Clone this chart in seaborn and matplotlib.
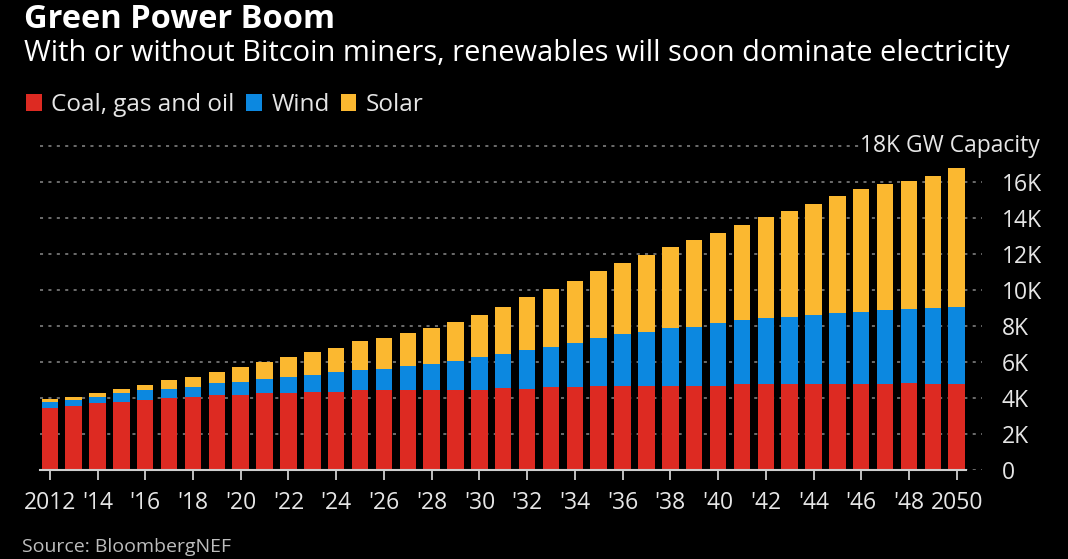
import numpy as np
import pandas as pd
import matplotlib
matplotlib.use("Agg")
import matplotlib.pyplot as plt
import matplotlib.transforms as mtransforms
import seaborn as sns

years = list(range(2012, 2051))
coal = [3.43, 3.57, 3.70, 3.80, 3.89, 3.98, 4.07, 4.15, 4.15, 4.26,
        4.26, 4.35, 4.35, 4.44, 4.44, 4.44, 4.44, 4.44, 4.44, 4.54,
        4.52, 4.59, 4.59, 4.69, 4.69, 4.69, 4.69, 4.69, 4.69, 4.78,
        4.78, 4.78, 4.78, 4.78, 4.78, 4.78, 4.85, 4.78, 4.78]
coal_wind = [3.80, 3.89, 4.04, 4.26, 4.44, 4.52, 4.63, 4.81, 4.91, 5.07,
             5.15, 5.28, 5.44, 5.54, 5.63, 5.80, 5.91, 6.07, 6.26, 6.43,
             6.67, 6.85, 7.07, 7.33, 7.54, 7.69, 7.87, 7.96, 8.15, 8.33,
             8.43, 8.50, 8.61, 8.70, 8.80, 8.89, 8.94, 8.98, 9.07]
total = [3.93, 4.07, 4.26, 4.52, 4.72, 5.00, 5.17, 5.44, 5.70, 6.02,
         6.26, 6.54, 6.80, 7.17, 7.35, 7.63, 7.91, 8.24, 8.61, 9.07,
         9.63, 10.06, 10.52, 11.06, 11.52, 11.96, 12.41, 12.78, 13.15, 13.59,
         14.06, 14.41, 14.78, 15.22, 15.59, 15.87, 16.06, 16.33, 16.78]

series_names = ["Coal, gas and oil", "Wind", "Solar"]
colors = ["#DD2A22", "#0C88E0", "#FBB830"]
y_ticks = [0, 2000, 4000, 6000, 8000, 10000, 12000, 14000, 16000]
y_labels = ["0", "2K", "4K", "6K", "8K", "10K", "12K", "14K", "16K"]
x_tick_years = list(range(2012, 2051, 2))
x_tick_labels = ["2012"] + ["'%02d" % (y % 100) for y in x_tick_years[1:-1]] + ["2050"]

df = pd.DataFrame({"year": [str(y) for y in years],
                   "coal": [v * 1000 for v in coal],
                   "cw": [v * 1000 for v in coal_wind],
                   "total": [v * 1000 for v in total]})

sns.set_theme(style="dark")
plt.rcParams["font.family"] = ["Open Sans", "DejaVu Sans"]
BG = "#000000"
TXT = "#E6E6E6"

fig = plt.figure(figsize=(10.68, 5.59), dpi=100, facecolor=BG)
ax = fig.add_axes([40 / 1068, (559 - 470) / 559, 942 / 1068, 324 / 559])
ax.set_facecolor(BG)

bw = 0.69
sns.barplot(data=df, x="year", y="total", color=colors[2], saturation=1, width=bw, ax=ax, zorder=3)
sns.barplot(data=df, x="year", y="cw", color=colors[1], saturation=1, width=bw, ax=ax, zorder=3)
sns.barplot(data=df, x="year", y="coal", color=colors[0], saturation=1, width=bw, ax=ax, zorder=3)
for p in ax.patches:
    p.set_linewidth(0)

ax.set_xlim(-0.41, 39.06)
ax.set_ylim(0, 18000)

# gridlines
for t in y_ticks:
    ax.axhline(t, color="#8A8A8A", lw=1.1, ls=(0, (2, 3.5)), zorder=1)
ax.axhline(18000, xmax=(860 - 40) / 942, color="#8A8A8A", lw=1.1, ls=(0, (2, 3.5)), zorder=1, clip_on=False)

ax.grid(False)
for s in ["top", "right", "left"]:
    ax.spines[s].set_visible(False)
ax.spines["bottom"].set_visible(True)
ax.spines["bottom"].set_color("#CFCFCF")
ax.spines["bottom"].set_linewidth(1.5)
ax.spines["bottom"].set_bounds(-0.41, 38.38)
ax.spines["bottom"].set_zorder(4)

ax.yaxis.tick_right()
ax.set_yticks(y_ticks)
ax.set_yticklabels(y_labels)
ax.tick_params(axis="y", length=0, pad=14, labelsize=16.5, labelcolor=TXT)
for lab in ax.get_yticklabels():
    lab.set_horizontalalignment("left")

ax.set_xticks([years.index(y) for y in x_tick_years])
ax.set_xticklabels(x_tick_labels)
ax.tick_params(axis="x", length=7, width=1.3, color="#CFCFCF", direction="out", pad=8,
               labelsize=16.5, labelcolor=TXT, bottom=True)
ax.set_xlabel("")
ax.set_ylabel("")

ax.text(1040 / 1068, 18000, "18K GW Capacity",
        transform=mtransforms.blended_transform_factory(fig.transFigure, ax.transData),
        ha="right", va="center", fontsize=16.5, color=TXT)

fig.text(24 / 1068, 1 - 19 / 559, "Green Power Boom", fontsize=23.5, fontweight="bold", color="white",
         ha="left", va="center")
fig.text(24 / 1068, 1 - 54 / 559, "With or without Bitcoin miners, renewables will soon dominate electricity",
         fontsize=20.9, color="white", ha="left", va="center")

# legend
handles = [matplotlib.patches.Patch(facecolor=c, edgecolor="none") for c in colors]
leg = fig.legend(handles, series_names, loc="center left", bbox_to_anchor=(4 / 1068, 1 - 105 / 559),
                 ncol=3, frameon=False, fontsize=17.5, handlelength=0.65, handleheight=0.65,
                 handletextpad=0.4, columnspacing=0.45, labelcolor=TXT)

fig.text(22 / 1068, 1 - 538 / 559, "Source: BloombergNEF", fontsize=14, color="#BDBDBD", ha="left", va="top")

fig.savefig("out.png", dpi=100, facecolor=BG)
